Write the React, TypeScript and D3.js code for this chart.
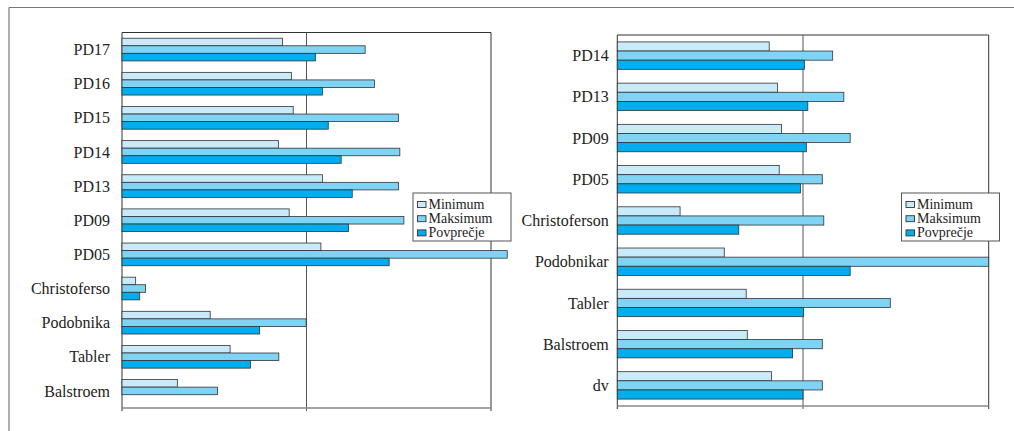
import React from "react";
import * as d3 from "d3";

const seriesNames = ["Minimum", "Maksimum", "Povprečje"];
const seriesColors = ["#c8eaf9", "#7fd3f5", "#00aeef"];

const leftCategories = ["PD17", "PD16", "PD15", "PD14", "PD13", "PD09", "PD05", "Christoferso", "Podobnika", "Tabler", "Balstroem"];
const leftMin = [43.5, 45.9, 46.4, 42.4, 54.3, 45.3, 53.9, 3.7, 23.9, 29.3, 15.0];
const leftMax = [65.9, 68.4, 74.9, 75.3, 74.9, 76.4, 104.4, 6.4, 49.9, 42.5, 25.9];
const leftAvg: (number | null)[] = [52.4, 54.3, 55.9, 59.4, 62.4, 61.4, 72.4, 4.8, 37.3, 34.8, null];

const rightCategories = ["PD14", "PD13", "PD09", "PD05", "Christoferson", "Podobnikar", "Tabler", "Balstroem", "dv"];
const rightMin = [40.9, 43.1, 44.2, 43.6, 16.9, 28.8, 34.7, 35.0, 41.5];
const rightMax = [58.0, 61.0, 62.7, 55.2, 55.6, 100, 73.5, 55.2, 55.2];
const rightAvg: (number | null)[] = [50.4, 51.3, 50.9, 49.3, 32.7, 62.7, 50.1, 47.2, 50.0];

const xTicks = [0, 50, 100];

type PanelProps = {
  categories: string[];
  values: (number | null)[][];
  x0: number;
  x1: number;
  y0: number;
  y1: number;
  legendX: number;
  legendY: number;
  labelGap: number;
};

const FONT = "\"Liberation Serif\", \"Times New Roman\", Times, \"DejaVu Serif\", serif";

function Panel({ categories, values, x0, x1, y0, y1, legendX, legendY, labelGap }: PanelProps) {
  const x = d3.scaleLinear().domain([0, 100]).range([x0, x1]);
  const y = d3
    .scaleBand<string>()
    .domain(categories)
    .range([y0, y1])
    .paddingInner(0.335)
    .paddingOuter(0.1675);
  const inner = d3.scaleBand<number>().domain([0, 1, 2]).range([0, y.bandwidth()]);
  const lw = 98;
  const lh = 48;
  return (
    <g>
      <line x1={x0} x2={x1} y1={y0} y2={y0} stroke="#333" strokeWidth={1} />
      {xTicks.map((t) => (
        <line key={t} x1={x(t)} x2={x(t)} y1={y0} y2={y1 + 3} stroke={t === 50 ? "#555" : "#333"} strokeWidth={1} />
      ))}
      <line x1={x0} x2={x1} y1={y1} y2={y1} stroke="#888" strokeWidth={1.5} />
      {categories.map((c, i) => (
        <g key={c}>
          {values.map((vals, s) => {
            const v = vals[i];
            if (v === null || v === undefined) return null;
            return (
              <rect
                key={s}
                x={x(0)}
                y={(y(c) as number) + (inner(s) as number)}
                width={x(v) - x(0)}
                height={inner.bandwidth()}
                fill={seriesColors[s]}
                stroke="#333"
                strokeWidth={0.8}
              />
            );
          })}
          <text
            x={x0 - labelGap}
            y={(y(c) as number) + y.bandwidth() / 2}
            dy="0.35em"
            textAnchor="end"
            style={{ fontFamily: FONT, fontSize: 16 }}
            fill="#222"
          >
            {c}
          </text>
        </g>
      ))}
      <g transform={`translate(${legendX},${legendY})`}>
        <rect x={0} y={0} width={lw} height={lh} fill="#fff" stroke="#555" strokeWidth={1} />
        {seriesNames.map((n, s) => (
          <g key={n} transform={`translate(0,${8 + s * 14.2})`}>
            <rect x={4.5} y={0.5} width={8.5} height={6} fill={seriesColors[s]} stroke="#333" strokeWidth={0.9} />
            <text x={15.5} y={7.5} style={{ fontFamily: FONT, fontSize: 14 }} fill="#222">
              {n}
            </text>
          </g>
        ))}
      </g>
    </g>
  );
}

export default function App() {
  return (
    <svg width={1014} height={431} style={{ position: "absolute", left: 0, top: 0, background: "#fff" }}>
      <rect x={0} y={0} width={1014} height={431} fill="#fff" />
      <line x1={9} x2={1014} y1={7.5} y2={7.5} stroke="#777" strokeWidth={1.2} />
      <line x1={9} x2={9} y1={7.5} y2={431} stroke="#777" strokeWidth={1.2} />
      <Panel
        categories={leftCategories}
        values={[leftMin, leftMax, leftAvg]}
        x0={122}
        x1={491}
        y0={32.5}
        y1={408}
        legendX={413}
        legendY={193}
        labelGap={12}
      />
      <Panel
        categories={rightCategories}
        values={[rightMin, rightMax, rightAvg]}
        x0={617.3}
        x1={988.7}
        y0={35}
        y1={406}
        legendX={901.5}
        legendY={193}
        labelGap={8.6}
      />
    </svg>
  );
}
